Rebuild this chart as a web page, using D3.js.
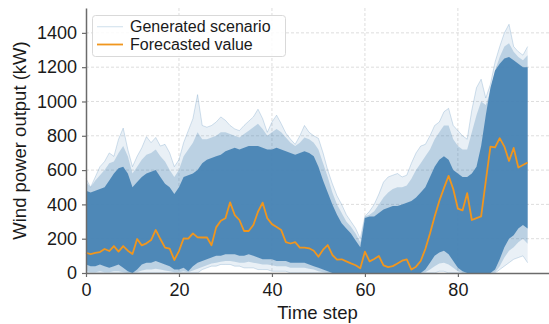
<!DOCTYPE html>
<html>
<head>
<meta charset="utf-8">
<script src="https://cdn.jsdelivr.net/npm/d3@7/dist/d3.min.js"></script>
<style>
  html, body { margin: 0; padding: 0; background: #fff; }
  svg { display: block; font-family: "Liberation Sans", Arial, sans-serif; }
</style>
</head>
<body>
<svg id="chart" width="549" height="324"></svg>
<script>
// Time steps 0..95
const timeSteps = d3.range(96);

// Point forecast (kW)
const forecast = [
  118,110,117,122,140,128,157,125,157,130,
  111,198,161,173,192,251,198,148,142,76,
  128,202,200,231,208,207,208,162,266,305,
  319,412,338,309,245,245,280,357,410,319,
  285,268,250,180,172,180,148,148,144,130,
  95,136,163,105,78,80,68,56,45,27,
  124,68,82,99,44,34,40,55,72,79,
  20,37,70,140,230,330,420,495,566,490,
  375,365,465,309,320,330,535,737,732,786,
  737,653,729,615,630,644
];

// Scenario ensemble: outermost envelope of all generated paths
const scenarioMax = [
  550,500,560,620,650,700,680,780,845,720,
  620,680,730,795,760,790,740,750,700,620,
  660,760,830,900,1040,860,850,860,880,910,
  890,860,840,830,860,885,910,955,900,820,
  880,920,870,815,780,750,800,860,820,800,
  785,700,600,520,450,400,340,300,260,200,
  330,360,400,460,530,560,570,580,560,570,
  640,700,740,750,800,860,880,940,960,860,
  830,800,780,950,1080,1130,1020,1100,1230,1320,
  1400,1450,1320,1290,1270,1320
];
const scenarioMin = [
  0,0,0,0,0,0,0,0,0,0,
  0,0,0,0,0,0,0,0,0,0,
  0,0,0,0,0,20,30,40,40,50,
  50,50,40,40,30,30,30,20,20,20,
  10,10,10,10,0,0,0,0,0,0,
  0,0,0,0,0,0,0,0,0,0,
  0,0,0,0,0,0,0,0,0,0,
  0,0,0,0,0,0,10,10,0,0,
  0,0,0,0,0,0,0,0,0,20,
  40,60,80,90,100,60
];

// Scenario ensemble: band where most paths still run
const spreadHigh = [
  530,500,540,570,600,640,650,700,740,680,
  580,620,660,690,700,720,680,650,600,560,
  600,680,720,760,820,780,780,790,800,820,
  820,810,800,790,810,830,850,870,840,800,
  820,840,820,790,760,740,760,790,780,760,
  720,640,560,470,400,350,300,270,230,180,
  330,340,360,400,440,470,490,500,500,510,
  550,600,640,680,720,780,820,860,860,780,
  740,720,720,820,920,1000,980,1060,1180,1260,
  1320,1340,1290,1260,1240,1270
];
const spreadLow = [
  10,5,5,10,5,5,10,10,5,0,
  0,5,15,20,20,25,20,15,10,5,
  5,10,5,15,25,35,45,55,60,65,
  70,70,65,60,60,65,60,55,50,50,
  45,40,40,40,30,30,30,30,25,20,
  10,5,0,0,0,0,0,0,0,0,
  0,0,0,0,0,0,0,0,0,0,
  0,0,0,5,20,40,55,60,50,30,
  10,0,0,0,0,0,0,0,5,40,
  90,130,150,180,200,170
];

// Scenario ensemble: dense core of the paths
const coreHigh = [
  480,470,480,490,500,540,580,610,620,580,
  500,530,560,580,590,600,560,520,500,460,
  500,560,570,580,600,640,660,670,680,690,
  710,720,730,720,730,740,740,740,730,720,
  720,730,720,710,700,690,700,710,700,680,
  620,540,470,400,340,290,260,230,190,150,
  320,330,330,350,370,380,390,390,400,410,
  420,440,470,500,560,620,660,680,660,600,
  580,560,560,580,620,740,920,1080,1180,1220,
  1250,1260,1240,1220,1200,1200
];
const coreLow = [
  50,40,40,50,40,30,40,50,30,10,
  0,20,50,60,60,70,60,50,40,20,
  20,30,10,40,60,70,80,90,100,100,
  110,110,110,100,100,110,100,90,80,80,
  80,70,70,70,60,60,60,60,50,40,
  30,20,10,0,0,0,0,0,0,0,
  0,0,0,0,0,0,0,0,0,0,
  0,0,0,20,60,100,120,130,110,70,
  30,10,0,0,0,0,0,0,20,80,
  150,200,220,260,280,260
];

const yTicks = [0, 200, 400, 600, 800, 1000, 1200, 1400];
const xTicks = [0, 20, 40, 60, 80];

const svg = d3.select("#chart");
const plot = { left: 86, right: 549, top: 8, bottom: 273 };

const x = d3.scaleLinear().domain([0, 99.6]).range([plot.left, plot.right]);
const y = d3.scaleLinear().domain([0, 1545]).range([plot.bottom, plot.top]);

const steel = "rgb(70,130,180)";
const orange = "#f0961e";

// dashed grid
const grid = svg.append("g");
grid.selectAll("line.gy").data(yTicks.filter(v => v > 0)).join("line")
  .attr("x1", plot.left).attr("x2", plot.right)
  .attr("y1", d => y(d)).attr("y2", d => y(d))
  .attr("stroke", "#d4d4d4").attr("stroke-width", 0.8)
  .attr("stroke-dasharray", "3,2");
grid.selectAll("line.gx").data(xTicks.filter(v => v > 0)).join("line")
  .attr("x1", d => x(d)).attr("x2", d => x(d))
  .attr("y1", plot.top).attr("y2", plot.bottom)
  .attr("stroke", "#d4d4d4").attr("stroke-width", 0.8)
  .attr("stroke-dasharray", "3,2");

// scenario ensemble, drawn as nested bands from sparse to dense
const band = (lo, hi) => d3.area()
  .x(d => x(d))
  .y0(d => y(lo[d]))
  .y1(d => y(hi[d]));

svg.append("path").datum(timeSteps)
  .attr("d", band(scenarioMin, scenarioMax))
  .attr("fill", steel).attr("fill-opacity", 0.12);

const edgeLine = arr => d3.line().x(d => x(d)).y(d => y(arr[d]));
[scenarioMax, scenarioMin].forEach(arr => {
  svg.append("path").datum(timeSteps)
    .attr("d", edgeLine(arr))
    .attr("fill", "none").attr("stroke", steel)
    .attr("stroke-opacity", 0.3).attr("stroke-width", 0.8);
});

svg.append("path").datum(timeSteps)
  .attr("d", band(spreadLow, spreadHigh))
  .attr("fill", steel).attr("fill-opacity", 0.28);

svg.append("path").datum(timeSteps)
  .attr("d", band(coreLow, coreHigh))
  .attr("fill", steel).attr("fill-opacity", 0.93);

// forecast
svg.append("path").datum(timeSteps)
  .attr("d", d3.line().x(d => x(d)).y(d => y(forecast[d])))
  .attr("fill", "none").attr("stroke", orange)
  .attr("stroke-width", 1.8).attr("stroke-linejoin", "round");

// axes
const axisColor = "#6b6b6b";
const yAxis = svg.append("g")
  .attr("transform", `translate(${plot.left},0)`)
  .call(d3.axisLeft(y).tickValues(yTicks).tickFormat(d3.format("d"))
    .tickSize(4).tickPadding(5).tickSizeOuter(0));
const xAxis = svg.append("g")
  .attr("transform", `translate(0,${plot.bottom})`)
  .call(d3.axisBottom(x).tickValues(xTicks).tickFormat(d3.format("d"))
    .tickSize(4).tickPadding(6).tickSizeOuter(0));
[yAxis, xAxis].forEach(g => {
  g.select(".domain").attr("stroke", axisColor).attr("stroke-width", 1.5);
  g.selectAll(".tick line").attr("stroke", axisColor).attr("stroke-width", 1.2);
  g.selectAll(".tick text").attr("fill", "#1a1a1a")
    .style("font-size", "18px").style("font-family", "'Liberation Sans', Arial, sans-serif");
});

// axis titles
svg.append("text")
  .attr("x", (plot.left + plot.right) / 2).attr("y", 319)
  .attr("text-anchor", "middle").attr("fill", "#1a1a1a")
  .style("font-size", "18.5px").text("Time step");
svg.append("text")
  .attr("transform", `translate(26,${(plot.top + plot.bottom) / 2}) rotate(-90)`)
  .attr("text-anchor", "middle").attr("fill", "#1a1a1a")
  .style("font-size", "18.5px").text("Wind power output (kW)");

// legend
const legend = svg.append("g");
legend.append("rect")
  .attr("x", 92.5).attr("y", 15.5).attr("width", 193).attr("height", 41)
  .attr("rx", 3).attr("fill", "#fff").attr("fill-opacity", 0.85)
  .attr("stroke", "#d9d9d9").attr("stroke-width", 1);
const legendItems = [
  { label: "Generated scenario", color: steel, opacity: 0.22, width: 1.2, y: 26.7 },
  { label: "Forecasted value", color: orange, opacity: 1, width: 1.8, y: 44.5 }
];
legendItems.forEach(it => {
  legend.append("line")
    .attr("x1", 97).attr("x2", 123).attr("y1", it.y).attr("y2", it.y)
    .attr("stroke", it.color).attr("stroke-opacity", it.opacity)
    .attr("stroke-width", it.width);
  legend.append("text")
    .attr("x", 130).attr("y", it.y + 5.6)
    .attr("fill", "#1a1a1a").style("font-size", "16px")
    .text(it.label);
});
</script>
</body>
</html>
